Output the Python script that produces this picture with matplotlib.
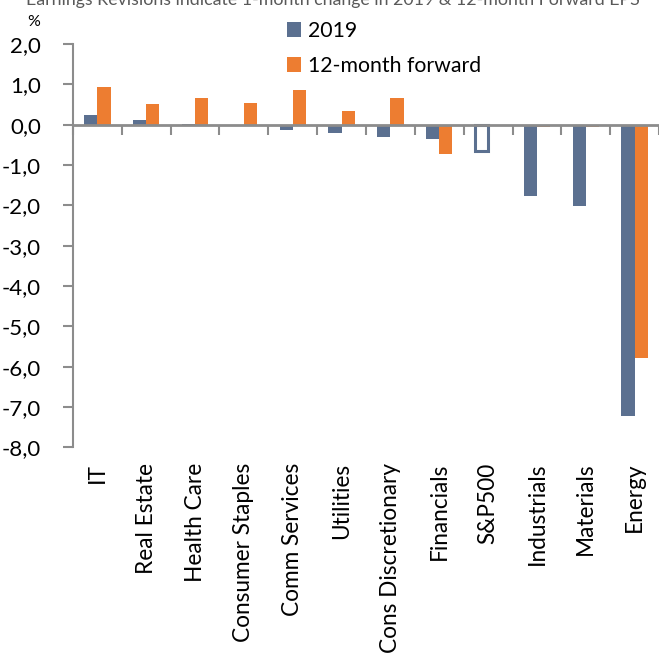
import matplotlib
matplotlib.use("Agg")
import matplotlib.pyplot as plt
import numpy as np

plt.rcParams['font.family'] = ['Lato', 'DejaVu Sans']

sectors = ['IT', 'Real Estate', 'Health Care', 'Consumer Staples', 'Comm Services',
           'Utilities', 'Cons Discretionary', 'Financials', 'S&P500', 'Industrials',
           'Materials', 'Energy']
rev_2019 = [0.24, 0.11, 0.01, 0.0, -0.14, -0.20, -0.30, -0.36, -0.65, -1.77, -2.01, -7.22]
rev_fwd = [0.94, 0.51, 0.66, 0.53, 0.85, 0.33, 0.66, -0.73, 0.0, -0.05, -0.05, -5.78]
yticks = [2, 1, 0, -1, -2, -3, -4, -5, -6, -7, -8]

blue = '#5B7090'
orange = '#ED7D31'
grey = '#8C8C8C'

fig = plt.figure(figsize=(6.59, 6.53), dpi=100)
W, H = 659.0, 653.0
ax = fig.add_axes([73 / W, 1 - 447.3 / H, (659 - 73) / W, (447.3 - 44) / H])

x = np.arange(len(sectors))
w = 0.27
face = [blue if s != 'S&P500' else 'white' for s in sectors]
b1 = ax.bar(x - w / 2, rev_2019, w, color=face, edgecolor=blue, linewidth=0,
            label='2019', zorder=3)
# S&P500 drawn as outlined box
sp = sectors.index('S&P500')
b1[sp].set_linewidth(2.2)
b1[sp].set_edgecolor(blue)
ax.bar(x + w / 2, rev_fwd, w, color=orange, label='12-month forward', zorder=3)

ax.set_xlim(-0.5, len(sectors) - 0.5)
ax.set_ylim(-8, 2)
ax.set_yticks(yticks)
ax.set_yticklabels([('%.1f' % v).replace('.', ',') for v in yticks])
ax.tick_params(axis='y', length=7, width=1.5, color=grey, labelsize=16, pad=16)

for s in ['top', 'right']:
    ax.spines[s].set_visible(False)
ax.spines['left'].set_color(grey)
ax.spines['left'].set_linewidth(1.5)
ax.spines['bottom'].set_position(('data', 0))
ax.spines['bottom'].set_color(grey)
ax.spines['bottom'].set_linewidth(2)
ax.spines['bottom'].set_zorder(4)

ax.set_xticks(x)
ax.set_xticklabels([])
ax.set_xticks(np.arange(len(sectors) + 1) - 0.5, minor=True)
ax.tick_params(axis='x', which='major', length=0)
ax.tick_params(axis='x', which='minor', length=7, width=1.5, color=grey)

sec = ax.secondary_xaxis('bottom')
sec.set_xticks(x)
sec.set_xticklabels(sectors, rotation=90, fontsize=16.3)
sec.tick_params(length=0, pad=11)
sec.spines['bottom'].set_visible(False)

fig.text(27 / W, 1 - 22 / H, '%', fontsize=11.5, va='center', ha='left')
fig.text(26 / W, 1 - 0 / H, 'Earnings Revisions indicate 1-month change in 2019 & 12-month Forward EPS',
         fontsize=12.8, color='#595959', va='center', ha='left')

fig.legend(loc='upper left', bbox_to_anchor=(287 / W, 1 - 21 / H), frameon=False,
           fontsize=15.3, handlelength=0.65, handleheight=0.65, handletextpad=0.35,
           labelspacing=0.7, borderpad=0, borderaxespad=0)

fig.savefig('out.png', dpi=100)
